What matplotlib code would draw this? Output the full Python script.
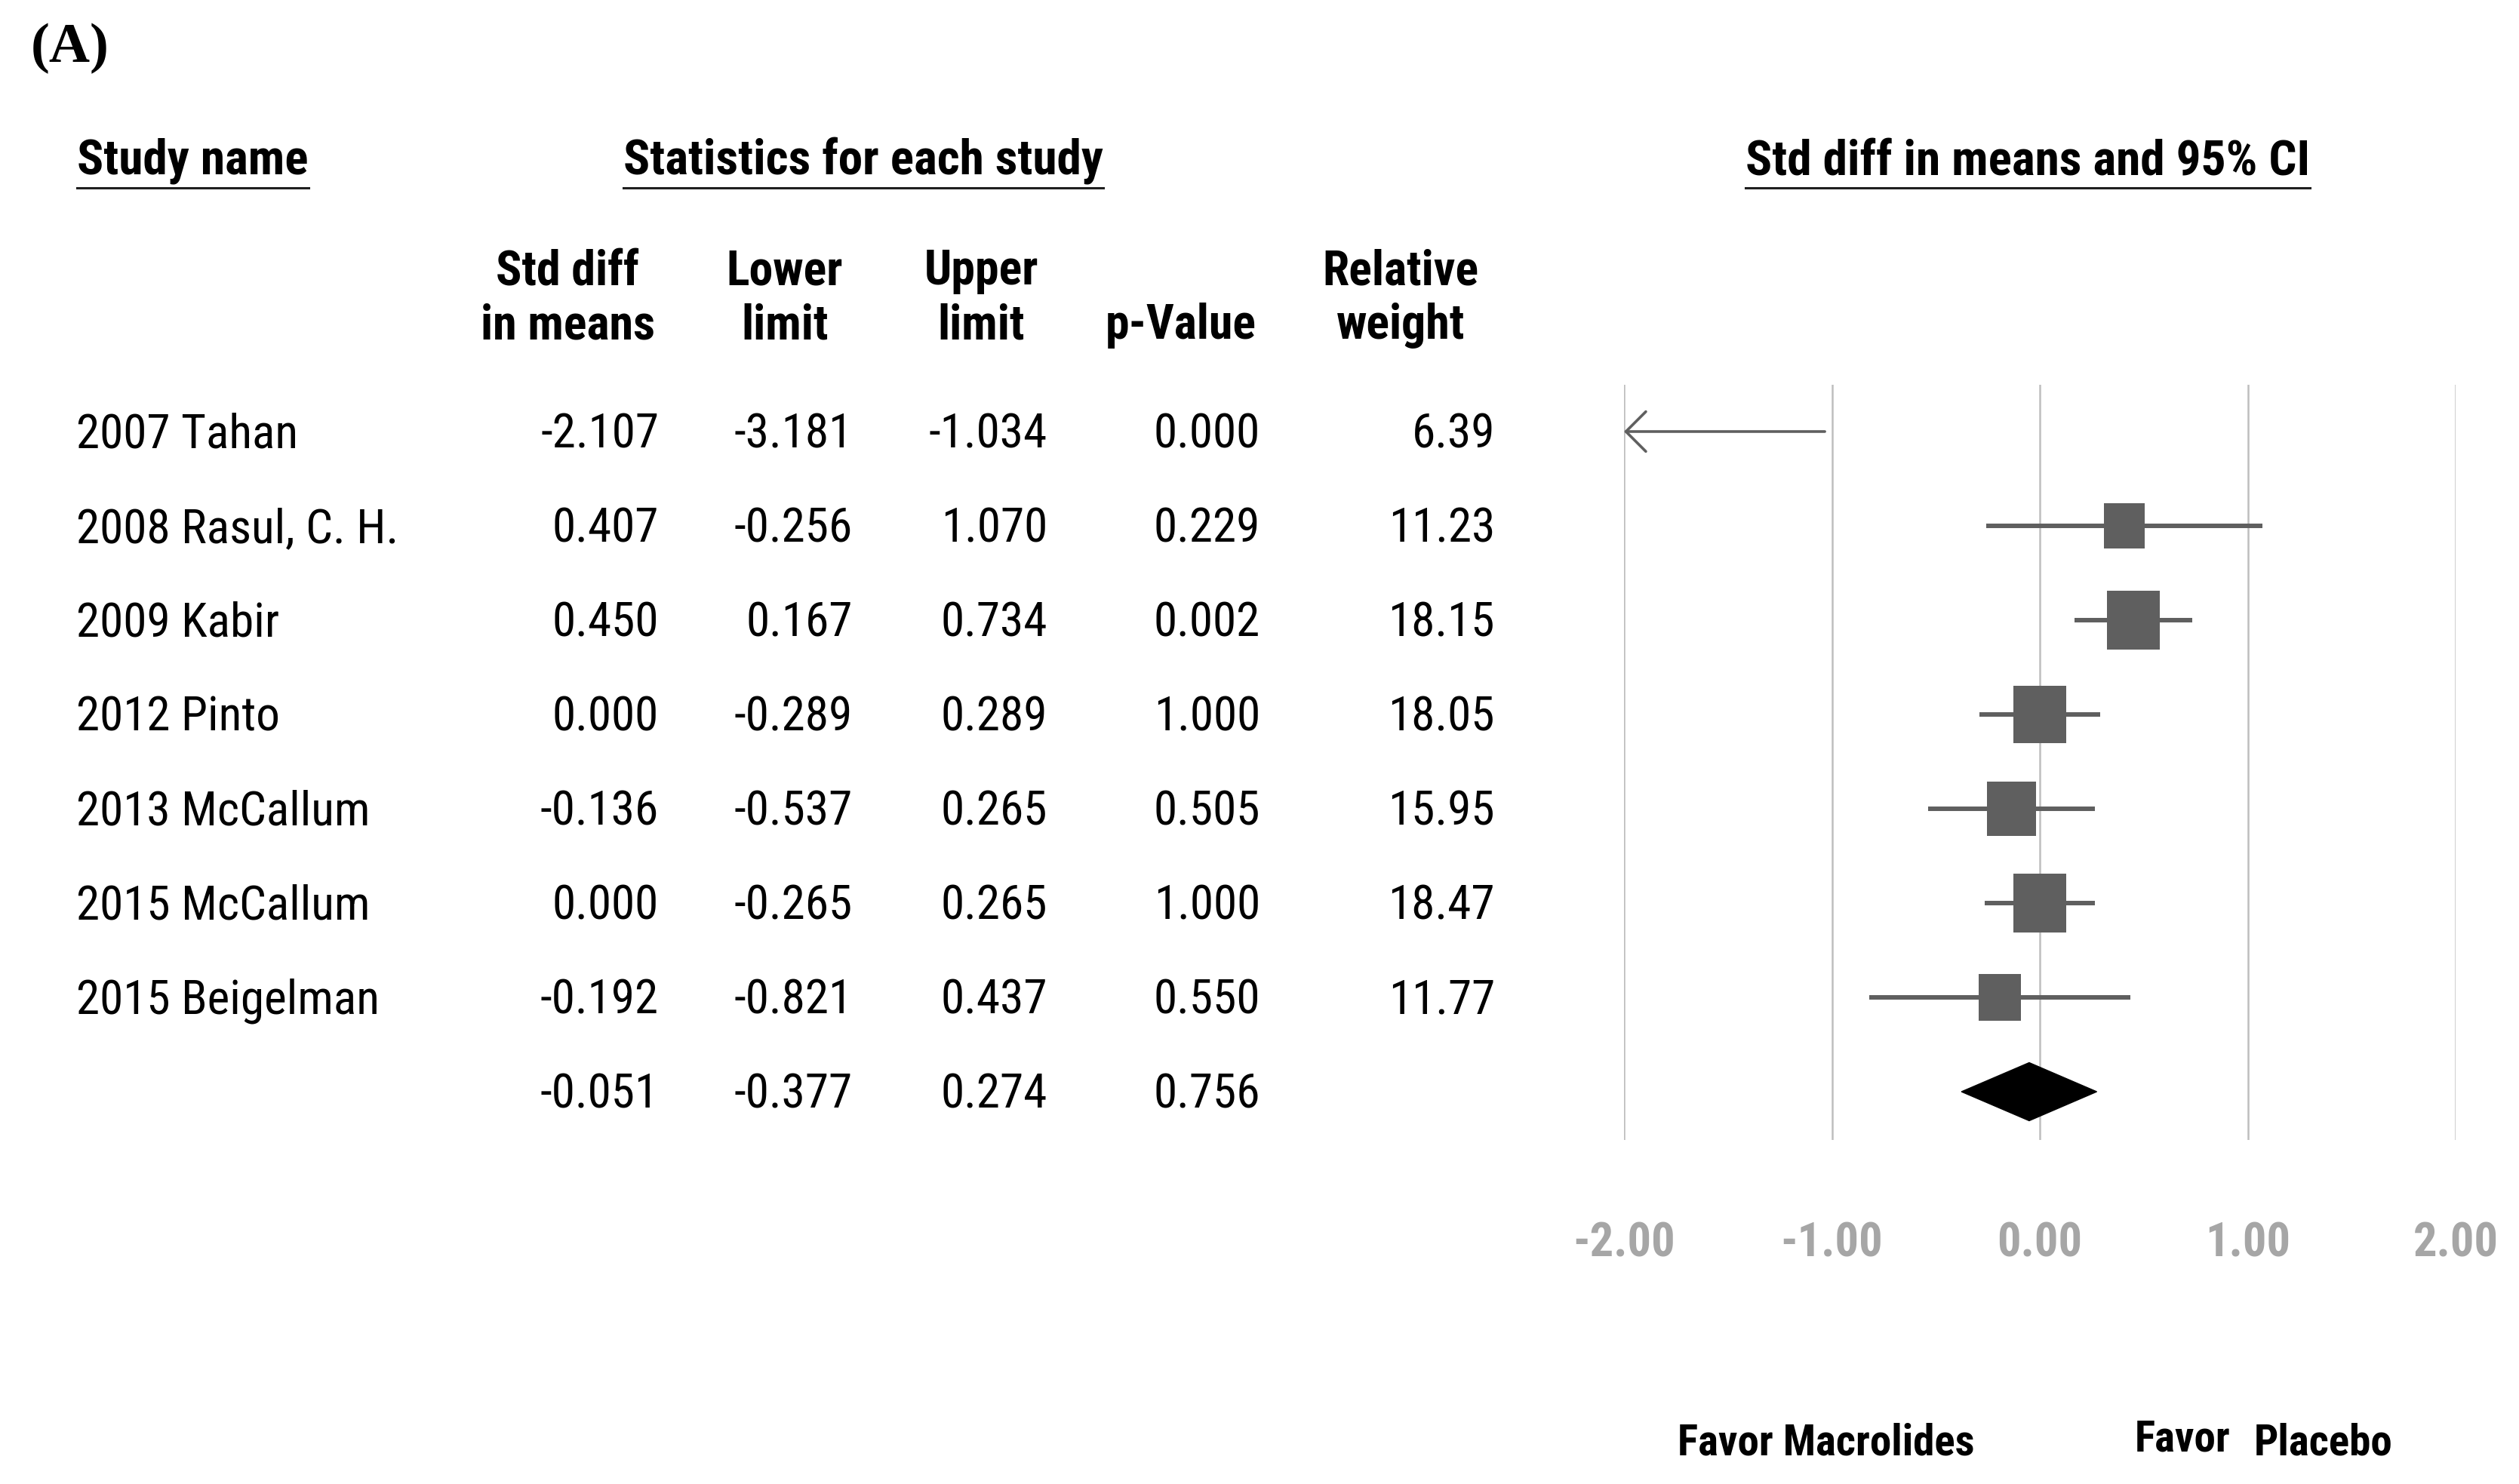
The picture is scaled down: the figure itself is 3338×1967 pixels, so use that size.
import matplotlib
matplotlib.use("Agg")
import matplotlib.pyplot as plt
import matplotlib.transforms as mtransforms
from matplotlib.patches import Rectangle, Polygon
from matplotlib.lines import Line2D
from matplotlib import font_manager

# ---------------- data ----------------
studies = ["2007 Tahan", "2008 Rasul, C. H.", "2009 Kabir", "2012 Pinto",
           "2013 McCallum", "2015 McCallum", "2015 Beigelman"]
smd = [-2.107, 0.407, 0.450, 0.000, -0.136, 0.000, -0.192]
lower = [-3.181, -0.256, 0.167, -0.289, -0.537, -0.265, -0.821]
upper = [-1.034, 1.070, 0.734, 0.289, 0.265, 0.265, 0.437]
pvals = [0.000, 0.229, 0.002, 1.000, 0.505, 1.000, 0.550]
weights = [6.39, 11.23, 18.15, 18.05, 15.95, 18.47, 11.77]
summary_smd, summary_lower, summary_upper, summary_p = -0.051, -0.377, 0.274, 0.756
xticks = [-2.0, -1.0, 0.0, 1.0, 2.0]
tick_labels = ["-2.00", "-1.00", "0.00", "1.00", "2.00"]
col_headers = ["Std diff\nin means", "Lower\nlimit", "Upper\nlimit", "p-Value", "Relative\nweight"]

# ---------------- fonts ----------------
names = {f.name for f in font_manager.fontManager.ttflist}
narrow = None
for cand in ["Liberation Sans Narrow", "Arial Narrow", "Roboto Condensed",
             "Open Sans Condensed"]:
    if cand in names:
        narrow = cand
        break
if narrow:
    SANS = [narrow, "DejaVu Sans"]
    FS, FS_B, FS_S, FS_T, FS_F = 45.5, 46, 47, 45, 41
else:
    SANS = ["Liberation Sans", "DejaVu Sans"]
    FS, FS_B, FS_S, FS_T, FS_F = 43, 42, 42, 41, 37
SERIF = ["Liberation Serif", "DejaVu Serif"]

W, H = 3338, 1967
fig = plt.figure(figsize=(W / 100, H / 100), dpi=100)
fig.patch.set_facecolor("white")

def fx(px):
    return px / W

def fy(py):
    return 1 - py / H

# forest axes: x -2..2 mapped to px 2152..3254, rows 0..7
ax_left, ax_right = 2152, 3254
ax_top, ax_bot = 510, 1511
ax = fig.add_axes([fx(ax_left), fy(ax_bot), (ax_right - ax_left) / W, (ax_bot - ax_top) / H])
row_px = 125.0
first_row_px = 572
ax.set_xlim(-2, 2)
ax.set_ylim((ax_bot - first_row_px) / row_px, (ax_top - first_row_px) / row_px)
ax.axis("off")

grid_color = "#BEBEBE"
mark_color = "#5F5F5F"
for t in xticks:
    ax.axvline(t, color=grid_color, lw=1.8, zorder=1)

xmin, xmax = ax.get_xlim()
for i, (m, lo, hi, w) in enumerate(zip(smd, lower, upper, weights)):
    lo_c = max(lo, xmin)
    hi_c = min(hi, xmax)
    if lo < xmin:
        ax.annotate("", xy=(xmin, i), xytext=(hi_c, i),
                    arrowprops=dict(arrowstyle="->,head_length=0.95,head_width=0.95",
                                    color=mark_color, lw=2.6, shrinkA=0, shrinkB=0,
                                    mutation_scale=20), zorder=3)
    else:
        ax.plot([lo_c, hi_c], [i, i], color=mark_color, lw=4.3,
                solid_capstyle="butt", zorder=3)
    if xmin <= m <= xmax:
        wd = 0.0592 * w ** 0.5
        ht = 0.1447 * w ** 0.5
        ax.add_patch(Rectangle((m - wd / 2, i - ht / 2), wd, ht,
                               facecolor=mark_color, edgecolor="none", zorder=4))

# summary diamond
ys = len(studies)
dh = 0.308
ax.add_patch(Polygon([(summary_lower, ys), (summary_smd, ys - dh),
                      (summary_upper, ys), (summary_smd, ys + dh)],
                     closed=True, facecolor="black", edgecolor="black", lw=1, zorder=4))

# tick labels
tick_tr = mtransforms.blended_transform_factory(ax.transData, fig.transFigure)
for t, lab in zip(xticks, tick_labels):
    ax.text(t, fy(1665), lab, transform=tick_tr, ha="center", va="baseline",
            fontsize=FS_T, fontweight="bold", color="#A6A6A6", family=SANS,
            clip_on=False)

# ---------------- table text ----------------
row_tr = mtransforms.blended_transform_factory(fig.transFigure, ax.transData)
base_off = 0.175
col_right = [873, 1130, 1388, 1670, 1981]
for i, name in enumerate(studies):
    y = i + base_off
    fig.text(fx(101), y, name, transform=row_tr, ha="left", va="baseline",
             fontsize=FS, family=SANS)
    vals = [f"{smd[i]:.3f}", f"{lower[i]:.3f}", f"{upper[i]:.3f}",
            f"{pvals[i]:.3f}", f"{weights[i]:.2f}"]
    for xr, v in zip(col_right, vals):
        fig.text(fx(xr), y, v, transform=row_tr, ha="right", va="baseline",
                 fontsize=FS, family=SANS)
y = ys + base_off
for xr, v in zip(col_right[:4], [summary_smd, summary_lower, summary_upper, summary_p]):
    fig.text(fx(xr), y, f"{v:.3f}", transform=row_tr, ha="right", va="baseline",
             fontsize=FS, family=SANS)

# column headers (two lines, centered)
col_center = [752, 1040, 1300, 1565, 1856]
for xc, hdr in zip(col_center, col_headers):
    lines = hdr.split("\n")
    if len(lines) == 1:
        lines = ["", lines[0]]
    for ln, bpy in zip(lines, [377, 449]):
        if ln:
            fig.text(fx(xc), fy(bpy), ln, ha="center", va="baseline",
                     fontsize=FS_B, fontweight="bold", family=SANS)

# underlined section headers
sec = [("Study name", 102), ("Statistics for each study", 826),
       ("Std diff in means and 95% CI", 2313)]
sec_texts = []
for txt, xl in sec:
    sec_texts.append(fig.text(fx(xl), fy(231), txt, ha="left", va="baseline",
                              fontsize=FS_S, fontweight="bold", family=SANS))
fig.canvas.draw()
renderer = fig.canvas.get_renderer()
for t in sec_texts:
    bb = t.get_window_extent(renderer)
    fig.add_artist(Line2D([bb.x0 / W, bb.x1 / W], [fy(249), fy(249)],
                          transform=fig.transFigure, color="#202020", lw=2.2))

# panel label
fig.text(fx(41), fy(82), "(A)", ha="left", va="baseline", fontsize=54,
         fontweight="bold", family=SERIF)

# favour labels
fig.text(fx(2223), fy(1928), "Favor Macrolides", ha="left", va="baseline",
         fontsize=FS_F, fontweight="bold", family=SANS)
fig.text(fx(2829), fy(1923), "Favor", ha="left", va="baseline",
         fontsize=FS_F, fontweight="bold", family=SANS)
fig.text(fx(2987), fy(1928), "Placebo", ha="left", va="baseline",
         fontsize=FS_F, fontweight="bold", family=SANS)

fig.savefig("out.png", dpi=100, facecolor="white")
